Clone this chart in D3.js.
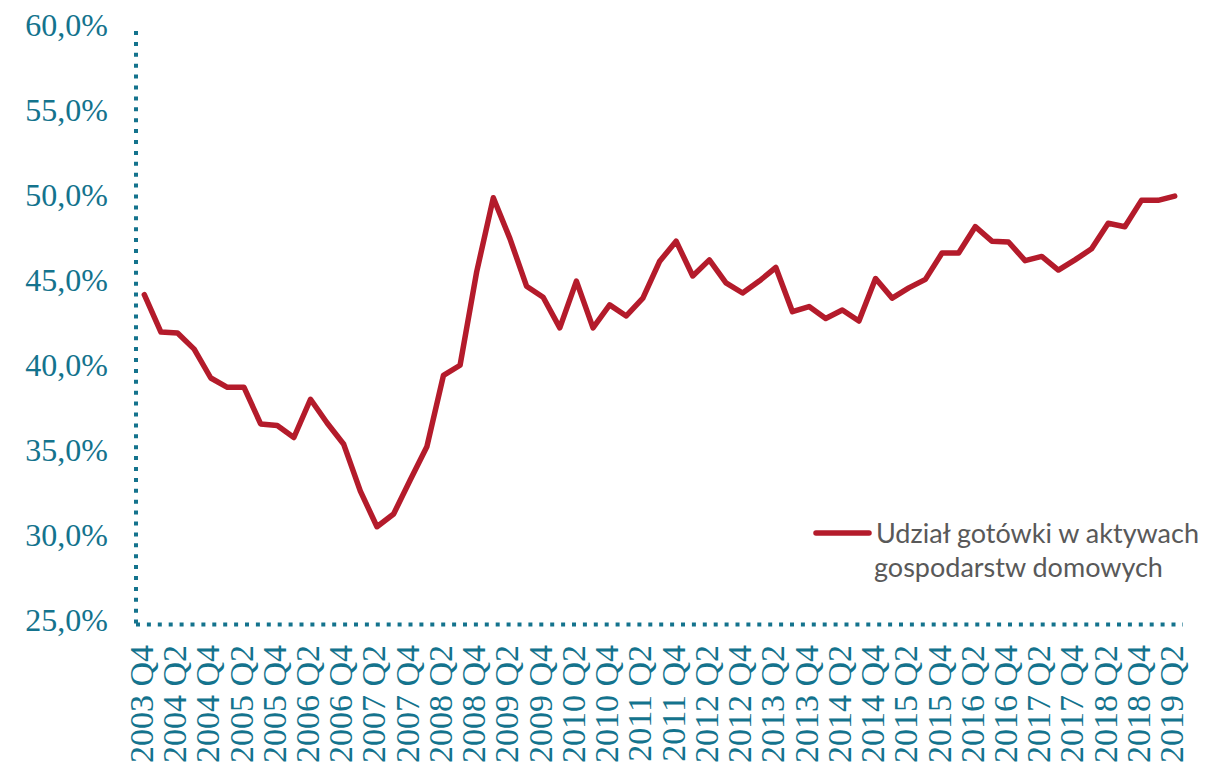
<!DOCTYPE html>
<html>
<head>
<meta charset="utf-8">
<script src="https://cdn.jsdelivr.net/npm/d3@7"></script>
<style>
  body { margin: 0; background: #fff; }
  svg { display: block; }
</style>
</head>
<body>
<svg width="1214" height="766"></svg>
<script>
// quarters, 2003 Q4 .. 2019 Q2
const quarters = [
  '2003 Q4',
  '2004 Q1', '2004 Q2', '2004 Q3', '2004 Q4',
  '2005 Q1', '2005 Q2', '2005 Q3', '2005 Q4',
  '2006 Q1', '2006 Q2', '2006 Q3', '2006 Q4',
  '2007 Q1', '2007 Q2', '2007 Q3', '2007 Q4',
  '2008 Q1', '2008 Q2', '2008 Q3', '2008 Q4',
  '2009 Q1', '2009 Q2', '2009 Q3', '2009 Q4',
  '2010 Q1', '2010 Q2', '2010 Q3', '2010 Q4',
  '2011 Q1', '2011 Q2', '2011 Q3', '2011 Q4',
  '2012 Q1', '2012 Q2', '2012 Q3', '2012 Q4',
  '2013 Q1', '2013 Q2', '2013 Q3', '2013 Q4',
  '2014 Q1', '2014 Q2', '2014 Q3', '2014 Q4',
  '2015 Q1', '2015 Q2', '2015 Q3', '2015 Q4',
  '2016 Q1', '2016 Q2', '2016 Q3', '2016 Q4',
  '2017 Q1', '2017 Q2', '2017 Q3', '2017 Q4',
  '2018 Q1', '2018 Q2', '2018 Q3', '2018 Q4',
  '2019 Q1', '2019 Q2'
];

// udział gotówki w aktywach gospodarstw domowych, %
const cashShare = [
  44.4,
  42.2, 42.15, 41.2, 39.5,
  38.95, 38.95, 36.8, 36.7,
  36.0, 38.25, 36.85, 35.6,
  32.85, 30.75, 31.5, 33.5,
  35.45, 39.65, 40.25, 45.75,
  50.1, 47.7, 44.9, 44.25,
  42.45, 45.2, 42.45, 43.8,
  43.15, 44.2, 46.35, 47.55,
  45.5, 46.45, 45.1, 44.5,
  45.2, 46.0, 43.4, 43.7,
  43.0, 43.5, 42.85, 45.35,
  44.2, 44.8, 45.3, 46.85,
  46.85, 48.4, 47.55, 47.5,
  46.4, 46.65, 45.85, 46.45,
  47.1, 48.6, 48.4, 49.95,
  49.95, 50.2
];

// every second quarter is labelled
const xTickLabels = quarters.filter((q, i) => i % 2 === 0);
const yTicks = [25, 30, 35, 40, 45, 50, 55, 60];

const legendLines = ['Udział gotówki w aktywach', 'gospodarstw domowych'];

const teal = '#14738d';
const red = '#b41b2b';

const svg = d3.select('svg');

const x = d3.scalePoint()
  .domain(quarters)
  .range([136, 1183])
  .padding(0.5);

const y = d3.scaleLinear()
  .domain([25, 60])
  .range([624.5, 29.5]);

const pl = d3.formatLocale({ decimal: ',', thousands: ' ', grouping: [3], currency: ['', ' zł'] });
const fmt = pl.format('.1f');

// Y axis labels
const yAxis = svg.append('g')
  .attr('transform', 'translate(108,0)')
  .call(d3.axisLeft(y).tickValues(yTicks).tickSize(0).tickPadding(0).tickFormat(d => fmt(d) + '%'));
yAxis.select('.domain').remove();
yAxis.selectAll('text')
  .attr('fill', teal)
  .attr('font-family', '"Liberation Serif", "DejaVu Serif", serif')
  .attr('font-size', 32)
  .attr('dy', '0.18em');

// X axis labels (rotated)
const xAxis = svg.append('g')
  .attr('transform', 'translate(0,645)')
  .call(d3.axisBottom(x).tickValues(xTickLabels).tickSize(0).tickPadding(0));
xAxis.select('.domain').remove();
xAxis.selectAll('text')
  .attr('fill', teal)
  .attr('font-family', '"Liberation Serif", "DejaVu Serif", serif')
  .attr('font-size', 34)
  .attr('text-anchor', 'end')
  .attr('transform', 'rotate(-90)')
  .attr('x', 0)
  .attr('y', 0)
  .attr('dy', 8);

// dotted axis lines
const dots = '4 6.9';
svg.append('line')
  .attr('x1', x.range()[0]).attr('x2', x.range()[0])
  .attr('y1', y(60) + 1.5).attr('y2', y(25))
  .attr('stroke', teal).attr('stroke-width', 4)
  .attr('stroke-dasharray', dots);
svg.append('line')
  .attr('x1', x.range()[0]).attr('x2', x.range()[1])
  .attr('y1', y(25)).attr('y2', y(25))
  .attr('stroke', teal).attr('stroke-width', 4)
  .attr('stroke-dasharray', dots);

// series line
svg.append('path')
  .datum(cashShare)
  .attr('fill', 'none')
  .attr('stroke', red)
  .attr('stroke-width', 5.5)
  .attr('stroke-linejoin', 'round')
  .attr('stroke-linecap', 'round')
  .attr('d', d3.line()
    .x((d, i) => x(quarters[i]))
    .y(d => y(d)));

// legend
const legend = svg.append('g');
legend.append('line')
  .attr('x1', 816).attr('x2', 869)
  .attr('y1', 533).attr('y2', 533)
  .attr('stroke', red).attr('stroke-width', 5.5)
  .attr('stroke-linecap', 'round');
legend.selectAll('text')
  .data(legendLines)
  .enter().append('text')
  .attr('x', (d, i) => i === 0 ? 876 : 874)
  .attr('y', (d, i) => 543 + i * 34)
  .attr('fill', '#595959')
  .attr('font-family', 'Lato, "Open Sans", sans-serif')
  .attr('font-size', 27)
  .text(d => d);
</script>
</body>
</html>
